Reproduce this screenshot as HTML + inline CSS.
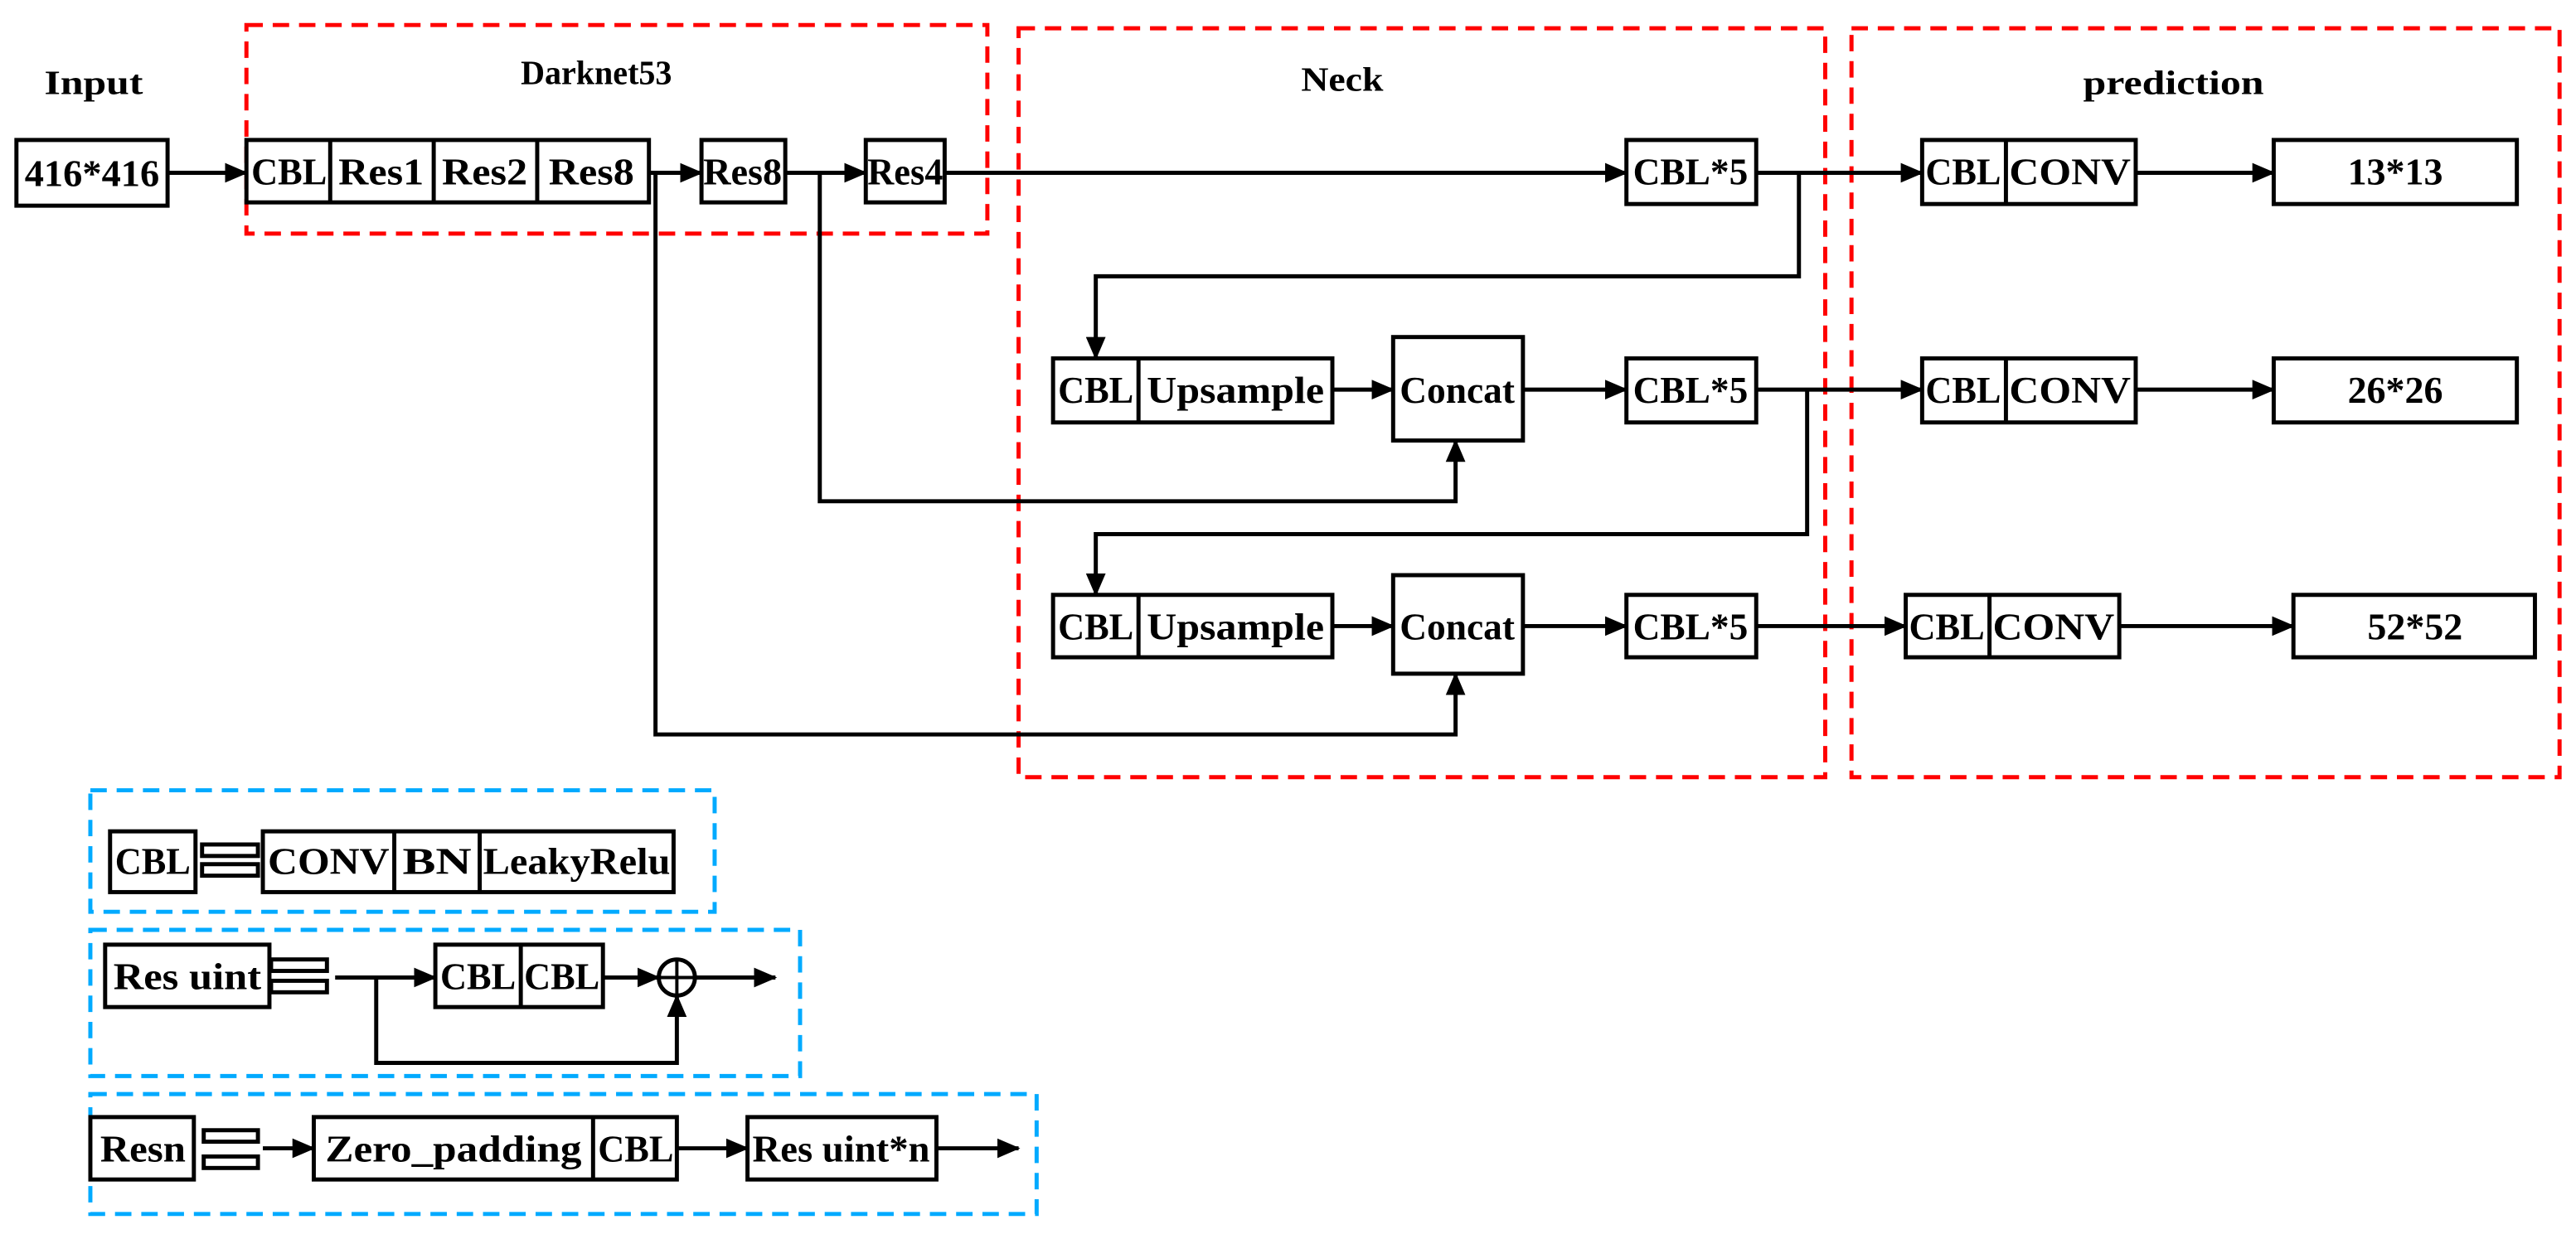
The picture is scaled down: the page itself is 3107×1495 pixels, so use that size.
<!DOCTYPE html>
<html><head><meta charset="utf-8"><style>html,body{margin:0;padding:0;background:#fff}svg{display:block}</style></head>
<body>
<svg width="3107" height="1495" viewBox="0 0 1568 754" xmlns="http://www.w3.org/2000/svg" font-family="Liberation Serif, serif" font-weight="bold" font-size="23">
<defs><marker id="a" markerWidth="14" markerHeight="12" refX="13" refY="6" orient="auto" markerUnits="userSpaceOnUse"><path d="M0,0 L14,6 L0,12 z" fill="#000"/></marker></defs>
<g fill="none" stroke="#f00" stroke-width="2.5" stroke-dasharray="10,6">
<rect x="150" y="15" width="451" height="127"/>
<rect x="620" y="17" width="491" height="456"/>
<rect x="1127" y="17" width="431" height="456"/>
</g>
<g fill="none" stroke="#0af" stroke-width="2.5" stroke-dasharray="10,6">
<rect x="55" y="481" width="380" height="74"/>
<rect x="55" y="566" width="432" height="89"/>
<rect x="55" y="666" width="576" height="73"/>
</g>
<g text-anchor="middle" font-size="21">
<text x="57" y="57" textLength="60" lengthAdjust="spacingAndGlyphs">Input</text><text x="363" y="51" textLength="92" lengthAdjust="spacingAndGlyphs">Darknet53</text><text x="817" y="55" textLength="50" lengthAdjust="spacingAndGlyphs">Neck</text><text x="1323" y="57" textLength="110" lengthAdjust="spacingAndGlyphs">prediction</text>
</g>
<g fill="#fff" stroke="#000" stroke-width="2.5">
<rect x="10" y="85" width="92" height="40"/>
<rect x="150" y="85" width="245" height="38"/>
<rect x="427" y="85" width="51" height="38"/>
<rect x="527" y="85" width="48" height="38"/>
<rect x="990" y="85" width="79" height="39"/>
<rect x="1170" y="85" width="130" height="39"/>
<rect x="1384" y="85" width="148" height="39"/>
<rect x="641" y="218" width="170" height="39"/>
<rect x="848" y="205" width="79" height="63"/>
<rect x="990" y="218" width="79" height="39"/>
<rect x="1170" y="218" width="130" height="39"/>
<rect x="1384" y="218" width="148" height="39"/>
<rect x="641" y="362" width="170" height="38"/>
<rect x="848" y="350" width="79" height="60"/>
<rect x="990" y="362" width="79" height="38"/>
<rect x="1160" y="362" width="130" height="38"/>
<rect x="1396" y="362" width="147" height="38"/>
<rect x="67" y="506" width="52" height="37"/>
<rect x="160" y="506" width="250" height="37"/>
<rect x="64" y="575" width="100" height="38"/>
<rect x="265" y="575" width="102" height="38"/>
<rect x="55" y="680" width="63" height="38"/>
<rect x="191" y="680" width="221" height="38"/>
<rect x="455" y="680" width="115" height="38"/>
<rect x="123" y="514" width="34" height="7"/><rect x="123" y="526" width="34" height="7"/>
<rect x="165" y="584" width="34" height="7"/><rect x="165" y="597" width="34" height="7"/>
<rect x="124" y="688" width="33" height="7"/><rect x="124" y="704" width="33" height="7"/>
</g>
<g stroke="#000" stroke-width="2.5" fill="none">
<path d="M201 85V123M264 85V123M327 85V123M1221 85V124M693 218V257M1221 218V257M693 362V400M1211 362V400M240 506V543M292 506V543M317 575V613M361 680V718"/>
</g>
<g stroke="#000" stroke-width="2.5" fill="none" marker-end="url(#a)">
<path d="M102 105H150"/><path d="M395 105H427"/><path d="M478 105H527"/><path d="M575 105H990"/>
<path d="M1069 105H1170"/><path d="M1300 105H1384"/>
<path d="M1095 105V168H667V218"/>
<path d="M811 237H848"/><path d="M927 237H990"/><path d="M1069 237H1170"/><path d="M1300 237H1384"/>
<path d="M1100 237V325H667V362"/>
<path d="M811 381H848"/><path d="M927 381H990"/><path d="M1069 381H1160"/><path d="M1290 381H1396"/>
<path d="M499 105V305H886V268"/>
<path d="M399 105V447H886V410"/>
<path d="M204 595H265"/><path d="M367 595H401"/><path d="M423 595H472"/>
<path d="M229 595V647H412V606"/>
<path d="M160 699H191"/><path d="M412 699H455"/><path d="M570 699H620"/>
</g>
<circle cx="412" cy="595" r="11" fill="none" stroke="#000" stroke-width="2.5"/>
<path d="M401 595H423M412 584V606" stroke="#000" stroke-width="2"/>
<g text-anchor="middle">
<text x="56" y="113" textLength="82" lengthAdjust="spacingAndGlyphs">416*416</text>
<text x="176" y="112" textLength="46" lengthAdjust="spacingAndGlyphs">CBL</text>
<text x="232" y="112" textLength="52" lengthAdjust="spacingAndGlyphs">Res1</text>
<text x="295" y="112" textLength="52" lengthAdjust="spacingAndGlyphs">Res2</text>
<text x="360" y="112" textLength="52" lengthAdjust="spacingAndGlyphs">Res8</text>
<text x="452" y="112" textLength="48" lengthAdjust="spacingAndGlyphs">Res8</text>
<text x="551" y="112" textLength="46" lengthAdjust="spacingAndGlyphs">Res4</text>
<text x="1029" y="112" textLength="70" lengthAdjust="spacingAndGlyphs">CBL*5</text>
<text x="1195" y="112" textLength="46" lengthAdjust="spacingAndGlyphs">CBL</text>
<text x="1260" y="112" textLength="74" lengthAdjust="spacingAndGlyphs">CONV</text>
<text x="1458" y="112" textLength="58" lengthAdjust="spacingAndGlyphs">13*13</text>
<text x="667" y="245" textLength="46" lengthAdjust="spacingAndGlyphs">CBL</text>
<text x="752" y="245" textLength="108" lengthAdjust="spacingAndGlyphs">Upsample</text>
<text x="887" y="245" textLength="70" lengthAdjust="spacingAndGlyphs">Concat</text>
<text x="1029" y="245" textLength="70" lengthAdjust="spacingAndGlyphs">CBL*5</text>
<text x="1195" y="245" textLength="46" lengthAdjust="spacingAndGlyphs">CBL</text>
<text x="1260" y="245" textLength="74" lengthAdjust="spacingAndGlyphs">CONV</text>
<text x="1458" y="245" textLength="58" lengthAdjust="spacingAndGlyphs">26*26</text>
<text x="667" y="389" textLength="46" lengthAdjust="spacingAndGlyphs">CBL</text>
<text x="752" y="389" textLength="108" lengthAdjust="spacingAndGlyphs">Upsample</text>
<text x="887" y="389" textLength="70" lengthAdjust="spacingAndGlyphs">Concat</text>
<text x="1029" y="389" textLength="70" lengthAdjust="spacingAndGlyphs">CBL*5</text>
<text x="1185" y="389" textLength="46" lengthAdjust="spacingAndGlyphs">CBL</text>
<text x="1250" y="389" textLength="74" lengthAdjust="spacingAndGlyphs">CONV</text>
<text x="1470" y="389" textLength="58" lengthAdjust="spacingAndGlyphs">52*52</text>
<text x="93" y="532" textLength="46" lengthAdjust="spacingAndGlyphs">CBL</text>
<text x="200" y="532" textLength="74" lengthAdjust="spacingAndGlyphs">CONV</text>
<text x="266" y="532" textLength="42" lengthAdjust="spacingAndGlyphs">BN</text>
<text x="351" y="532" textLength="114" lengthAdjust="spacingAndGlyphs">LeakyRelu</text>
<text x="114" y="602" textLength="90" lengthAdjust="spacingAndGlyphs">Res uint</text>
<text x="291" y="602" textLength="46" lengthAdjust="spacingAndGlyphs">CBL</text>
<text x="342" y="602" textLength="46" lengthAdjust="spacingAndGlyphs">CBL</text>
<text x="87" y="707" textLength="52" lengthAdjust="spacingAndGlyphs">Resn</text>
<text x="276" y="707" textLength="156" lengthAdjust="spacingAndGlyphs">Zero_padding</text>
<text x="387" y="707" textLength="46" lengthAdjust="spacingAndGlyphs">CBL</text>
<text x="512" y="707" textLength="108" lengthAdjust="spacingAndGlyphs">Res uint*n</text>
</g>
</svg>
</body></html>
